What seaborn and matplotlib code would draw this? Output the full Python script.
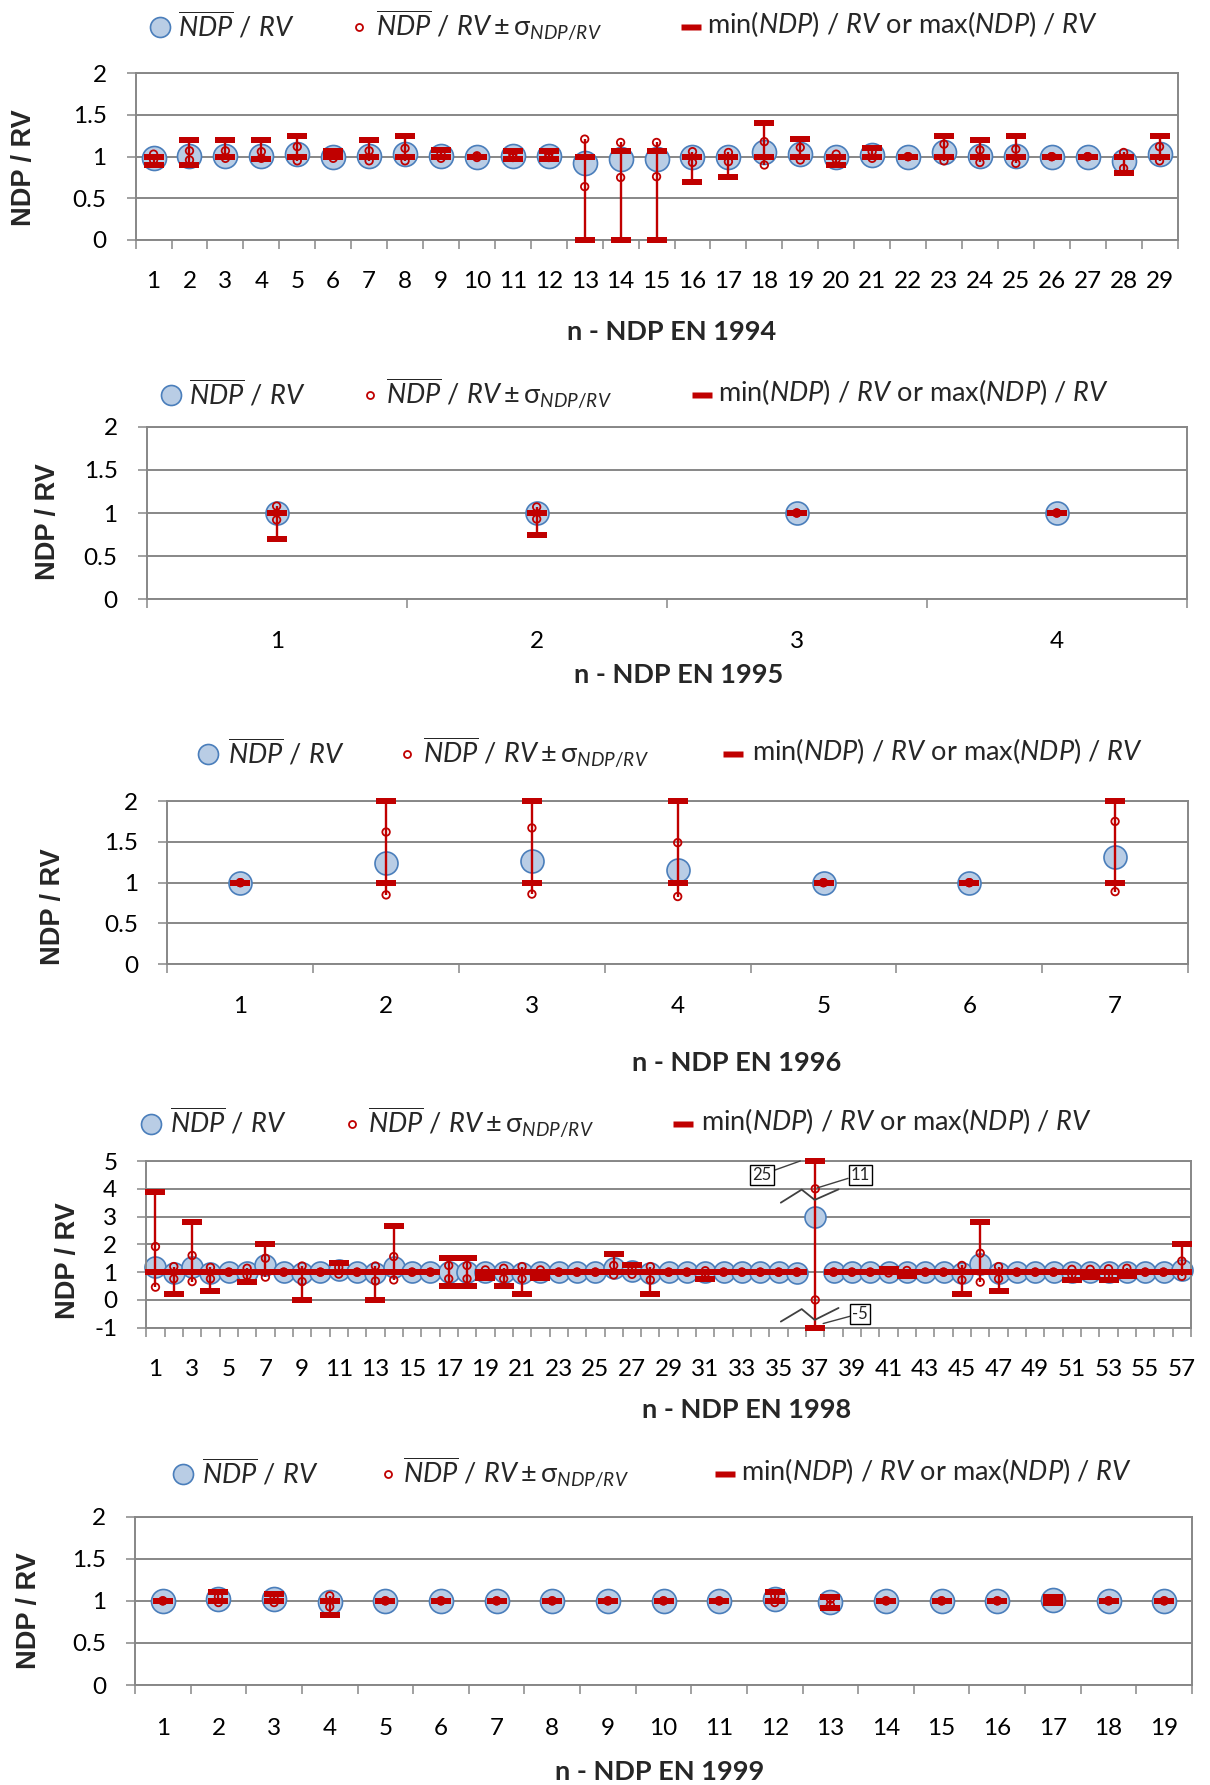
import numpy as np
import pandas as pd
import matplotlib
matplotlib.use("Agg")
import matplotlib.pyplot as plt
import seaborn as sns
from matplotlib.lines import Line2D

# ---------------- data: NDP / RV ratios ----------------
# EN 1994
n_1994 = list(range(1, 30))
mean_1994 = [0.98, 1.01, 1.01, 1.01, 1.03, 1.00, 1.01, 1.03, 1.01, 1.00,
             1.01, 1.01, 0.92, 0.97, 0.97, 0.99, 0.99, 1.05, 1.03, 1.00,
             1.02, 1.00, 1.06, 1.01, 1.01, 1.00, 1.00, 0.95, 1.03]
hi_1994 = [1.03, 1.07, 1.07, 1.06, 1.12, 1.03, 1.07, 1.10, 1.04, 1.01,
           1.03, 1.03, 1.21, 1.17, 1.17, 1.06, 1.05, 1.18, 1.11, 1.03,
           1.06, 1.00, 1.15, 1.08, 1.09, 1.00, 1.00, 1.05, 1.12]
lo_1994 = [0.96, 0.96, 0.98, 0.98, 0.95, 0.98, 0.95, 0.95, 0.98, 0.99,
           0.99, 0.99, 0.64, 0.75, 0.76, 0.93, 0.94, 0.90, 0.96, 0.97,
           0.98, 1.00, 0.95, 0.93, 0.92, 1.00, 1.00, 0.86, 0.95]
max_1994 = [1.00, 1.20, 1.20, 1.20, 1.25, 1.07, 1.20, 1.25, 1.08, 1.00,
            1.07, 1.07, 1.00, 1.07, 1.07, 1.00, 1.00, 1.40, 1.21, 1.00,
            1.10, 1.00, 1.25, 1.20, 1.25, 1.00, 1.00, 1.00, 1.25]
min_1994 = [0.90, 0.90, 1.00, 0.97, 1.00, 1.00, 1.00, 1.00, 1.00, 1.00,
            0.97, 0.97, 0.00, 0.00, 0.00, 0.70, 0.75, 1.00, 1.00, 0.90,
            1.00, 1.00, 1.00, 1.00, 1.00, 1.00, 1.00, 0.80, 1.00]

# EN 1995
n_1995 = [1, 2, 3, 4]
mean_1995 = [1.00, 1.00, 1.00, 1.00]
hi_1995 = [1.08, 1.07, 1.00, 1.00]
lo_1995 = [0.92, 0.93, 1.00, 1.00]
max_1995 = [1.00, 1.00, 1.00, 1.00]
min_1995 = [0.70, 0.75, 1.00, 1.00]

# EN 1996
n_1996 = [1, 2, 3, 4, 5, 6, 7]
mean_1996 = [1.00, 1.24, 1.27, 1.16, 1.00, 1.00, 1.32]
hi_1996 = [1.00, 1.62, 1.67, 1.49, 1.00, 1.00, 1.75]
lo_1996 = [1.00, 0.85, 0.86, 0.83, 1.00, 1.00, 0.89]
max_1996 = [1.00, 2.00, 2.00, 2.00, 1.00, 1.00, 2.00]
min_1996 = [1.00, 1.00, 1.00, 1.00, 1.00, 1.00, 1.00]

# EN 1998
n_1998 = list(range(1, 58))
mean_1998 = [1.20, 0.97, 1.20, 0.97, 1.00, 1.00, 1.25, 1.00, 0.96, 1.00,
             1.08, 1.00, 0.96, 1.20, 1.00, 1.00, 1.00, 1.00, 1.00, 1.00,
             0.96, 1.00, 1.00, 1.00, 1.00, 1.15, 1.05, 0.97, 1.00, 1.00,
             1.00, 1.00, 1.00, 1.00, 1.00, 0.98, 3.00, 1.00, 1.00, 1.00,
             1.00, 1.00, 1.00, 1.00, 0.97, 1.30, 0.96, 1.00, 1.00, 1.00,
             1.00, 1.00, 1.00, 1.00, 1.00, 1.00, 1.08]
hi_1998 = [1.92, 1.20, 1.60, 1.17, 1.00, 1.14, 1.50, 1.00, 1.22, 1.00,
           1.17, 1.00, 1.22, 1.56, 1.00, 1.00, 1.24, 1.24, 1.08, 1.14,
           1.20, 1.08, 1.00, 1.00, 1.00, 1.24, 1.15, 1.20, 1.00, 1.00,
           1.05, 1.00, 1.00, 1.00, 1.00, 1.00, 4.00, 1.00, 1.00, 1.00,
           1.05, 1.06, 1.00, 1.00, 1.24, 1.68, 1.20, 1.00, 1.00, 1.00,
           1.10, 1.10, 1.12, 1.14, 1.00, 1.00, 1.40]
lo_1998 = [0.46, 0.76, 0.66, 0.76, 1.00, 0.88, 0.82, 1.00, 0.66, 1.00,
           0.93, 1.00, 0.68, 0.72, 1.00, 1.00, 0.76, 0.76, 0.90, 0.76,
           0.76, 0.90, 1.00, 1.00, 1.00, 0.90, 0.92, 0.72, 1.00, 1.00,
           0.95, 1.00, 1.00, 1.00, 1.00, 1.00, 0.00, 1.00, 1.00, 1.00,
           0.97, 0.92, 1.00, 1.00, 0.72, 0.64, 0.76, 1.00, 1.00, 1.00,
           0.90, 0.90, 0.86, 0.95, 1.00, 1.00, 0.85]
max_1998 = [3.90, 1.00, 2.80, 1.00, 1.00, 1.00, 2.00, 1.00, 1.00, 1.00,
            1.32, 1.00, 1.00, 2.66, 1.00, 1.00, 1.50, 1.50, 1.00, 1.00,
            1.00, 1.00, 1.00, 1.00, 1.00, 1.65, 1.27, 1.00, 1.00, 1.00,
            1.00, 1.00, 1.00, 1.00, 1.00, 1.00, 5.00, 1.00, 1.00, 1.00,
            1.10, 1.00, 1.00, 1.00, 1.00, 2.80, 1.00, 1.00, 1.00, 1.00,
            1.00, 1.00, 1.00, 1.00, 1.00, 1.00, 2.00]
min_1998 = [1.00, 0.22, 1.00, 0.32, 1.00, 0.63, 1.00, 1.00, 0.00, 1.00,
            1.00, 1.00, 0.00, 1.00, 1.00, 1.00, 0.50, 0.50, 0.78, 0.50,
            0.22, 0.78, 1.00, 1.00, 1.00, 1.00, 1.00, 0.22, 1.00, 1.00,
            0.76, 1.00, 1.00, 1.00, 1.00, 1.00, -1.00, 1.00, 1.00, 1.00,
            1.00, 0.85, 1.00, 1.00, 0.22, 1.00, 0.32, 1.00, 1.00, 1.00,
            0.72, 0.82, 0.72, 0.85, 1.00, 1.00, 1.00]
# off-scale values of procedure 37, drawn at the axis break
break_n_1998 = 37
break_labels_1998 = {"max": "25", "hi": "11", "min": "-5"}

# EN 1999
n_1999 = list(range(1, 20))
mean_1999 = [1.00, 1.02, 1.02, 0.99, 1.00, 1.00, 1.00, 1.00, 1.00, 1.00,
             1.00, 1.02, 0.99, 1.00, 1.00, 1.00, 1.01, 1.00, 1.00]
hi_1999 = [1.00, 1.05, 1.05, 1.06, 1.00, 1.00, 1.00, 1.00, 1.00, 1.00,
           1.00, 1.06, 1.02, 1.00, 1.00, 1.00, 1.02, 1.00, 1.00]
lo_1999 = [1.00, 0.98, 0.98, 0.93, 1.00, 1.00, 1.00, 1.00, 1.00, 1.00,
           1.00, 0.98, 0.95, 1.00, 1.00, 1.00, 1.00, 1.00, 1.00]
max_1999 = [1.00, 1.10, 1.08, 1.00, 1.00, 1.00, 1.00, 1.00, 1.00, 1.00,
            1.00, 1.10, 1.05, 1.00, 1.00, 1.00, 1.04, 1.00, 1.00]
min_1999 = [1.00, 1.00, 1.00, 0.83, 1.00, 1.00, 1.00, 1.00, 1.00, 1.00,
            1.00, 1.00, 0.91, 1.00, 1.00, 1.00, 0.98, 1.00, 1.00]

# ---------------- style ----------------
sns.set_theme(style="white")
plt.rcParams["font.family"] = ["Lato", "DejaVu Sans"]
plt.rcParams["mathtext.fontset"] = "custom"
plt.rcParams["mathtext.rm"] = "Lato"
plt.rcParams["mathtext.it"] = "Lato:italic"
plt.rcParams["mathtext.bf"] = "Lato:bold"
plt.rcParams["mathtext.sf"] = "Lato"
plt.rcParams["mathtext.fallback"] = "stixsans"

RED = "#C00000"
FILL = "#B9CDE5"
EDGE = "#4A7EBB"
GRID = "#878787"
CAP = [(-1, -0.3), (1, -0.3), (1, 0.3), (-1, 0.3), (-1, -0.3)]

W, H = 1210, 1785
PX = 72 / 100  # points per pixel
TICK_FS = 17.5
LEG_FS = 19.5

LEG1 = r"$\overline{NDP}\ /\ RV$"
LEG2 = r"$\overline{NDP}\ /\ RV \pm \mathrm{\sigma}_{NDP/RV}$"
LEG3 = r"$\mathrm{min(}NDP\mathrm{)}\ /\ RV\ \mathrm{or\ max(}NDP\mathrm{)}\ /\ RV$"

fig = plt.figure(figsize=(W / 100, H / 100), dpi=100)


def fx(x):
    return x / W


def fy(y):
    return 1 - y / H


def add_axes(l, t, r, b):
    return fig.add_axes([l / W, 1 - b / H, (r - l) / W, (b - t) / H])


def draw_series(ax, n, mean, hi, lo, vmax, vmin, big_px):
    df = pd.DataFrame(dict(n=n, mean=mean, hi=hi, lo=lo, vmax=vmax, vmin=vmin))
    top = df[["hi", "vmax", "mean"]].max(axis=1)
    bot = df[["lo", "vmin", "mean"]].min(axis=1)
    sns.scatterplot(data=df, x="n", y="mean", s=(big_px * PX) ** 2, color=FILL,
                    edgecolor=EDGE, linewidth=1.2, zorder=2, ax=ax, legend=False,
                    clip_on=False)
    ax.vlines(df["n"], bot, top, color=RED, lw=1.7, zorder=3, clip_on=False)
    caps = pd.melt(df, id_vars="n", value_vars=["vmax", "vmin"], value_name="v")
    sns.scatterplot(data=caps, x="n", y="v", marker=CAP, s=(20 * PX) ** 2, color=RED,
                    linewidth=0, zorder=4, ax=ax, legend=False, clip_on=False)
    sig = pd.melt(df, id_vars="n", value_vars=["hi", "lo"], value_name="v")
    sns.scatterplot(data=sig, x="n", y="v", marker="o", s=(7.5 * PX) ** 2, color=RED,
                    facecolor="none", edgecolor=RED, linewidth=1.3, zorder=5, ax=ax,
                    legend=False, clip_on=False)
    ax.set_xlabel("")
    ax.set_ylabel("")


def style_axes(ax, count, ylim, yticks, every, lab_y, bottom_y):
    ax.set_xlim(0.5, count + 0.5)
    ax.set_ylim(*ylim)
    ax.set_yticks(yticks)
    ax.set_yticklabels([f"{t:g}" for t in yticks])
    ax.set_xticks(np.arange(0.5, count + 1.0, 1.0))
    ax.set_xticklabels([])
    lab = np.arange(1, count + 1, every)
    ax.set_xticks(lab, minor=True)
    ax.set_xticklabels([str(v) for v in lab], minor=True)
    pad = (lab_y - bottom_y - 8.9) * PX
    ax.tick_params(axis="x", which="major", direction="out", length=9 * PX,
                   width=1.1, color=GRID, bottom=True)
    ax.tick_params(axis="x", which="minor", length=0, pad=pad, labelsize=TICK_FS,
                   bottom=True, labelcolor="black")
    ax.tick_params(axis="y", direction="out", length=9 * PX, width=1.1, color=GRID,
                   pad=20 * PX, labelsize=TICK_FS, left=True, labelcolor="black")
    ax.grid(axis="y", color=GRID, lw=1.4)
    ax.grid(axis="x", visible=False)
    ax.set_axisbelow(True)
    for sp in ax.spines.values():
        sp.set_visible(True)
        sp.set_color(GRID)
        sp.set_linewidth(1.4)


def draw_legend(y, xc, xt1, xs, xt2, xd, xt3):
    fig.add_artist(Line2D([fx(xc)], [fy(y)], marker="o", ms=20 * PX, mfc=FILL,
                          mec=EDGE, mew=1.2, ls="none", transform=fig.transFigure))
    fig.add_artist(Line2D([fx(xs)], [fy(y)], marker="o", ms=7 * PX, mfc="none",
                          mec=RED, mew=1.3, ls="none", transform=fig.transFigure))
    fig.add_artist(Line2D([fx(xd)], [fy(y)], marker=CAP, ms=20 * PX, mfc=RED,
                          mec="none", ls="none", transform=fig.transFigure))
    fig.text(fx(xt1), fy(y + 9), LEG1, fontsize=LEG_FS, va="baseline", ha="left")
    fig.text(fx(xt2), fy(y + 9), LEG2, fontsize=LEG_FS, va="baseline", ha="left")
    fig.text(fx(xt3), fy(y + 6), LEG3, fontsize=LEG_FS, va="baseline", ha="left")


def axis_titles(xlab, xpos, ypos):
    fig.text(fx(xpos[0]), fy(xpos[1]), xlab, fontsize=19.5, fontweight="bold",
             ha="center", va="center")
    fig.text(fx(ypos[0]), fy(ypos[1]), "NDP / RV", fontsize=19.5, fontweight="bold",
             family=["Liberation Sans", "DejaVu Sans"], rotation=90,
             ha="center", va="center")


# ---------------- panel EN 1994 ----------------
ax1 = add_axes(135.6, 73.3, 1177.5, 240)
draw_series(ax1, n_1994, mean_1994, hi_1994, lo_1994, max_1994, min_1994, 24)
style_axes(ax1, len(n_1994), (0, 2), [0, 0.5, 1, 1.5, 2], 1, 280, 240)
draw_legend(27, 160, 178, 359, 376, 691, 707)
axis_titles("n - NDP EN 1994", (672, 332), (24, 168))

# ---------------- panel EN 1995 ----------------
ax2 = add_axes(146.6, 426.7, 1186.8, 599.3)
draw_series(ax2, n_1995, mean_1995, hi_1995, lo_1995, max_1995, min_1995, 23)
style_axes(ax2, len(n_1995), (0, 2), [0, 0.5, 1, 1.5, 2], 1, 640, 599.3)
draw_legend(395, 171, 189, 370, 386, 702, 718)
axis_titles("n - NDP EN 1995", (679, 675), (48, 522))

# ---------------- panel EN 1996 ----------------
ax3 = add_axes(167.4, 801, 1188, 964.3)
draw_series(ax3, n_1996, mean_1996, hi_1996, lo_1996, max_1996, min_1996, 23)
style_axes(ax3, len(n_1996), (0, 2), [0, 0.5, 1, 1.5, 2], 1, 1005, 964.3)
draw_legend(754, 208, 228, 407, 423, 733, 752)
axis_titles("n - NDP EN 1996", (737, 1063), (53, 907))

# ---------------- panel EN 1998 ----------------
ax4 = add_axes(146.3, 1161, 1191, 1327.7)
draw_series(ax4, n_1998, mean_1998, hi_1998, lo_1998, max_1998, min_1998, 21)
style_axes(ax4, len(n_1998), (-1, 5), [-1, 0, 1, 2, 3, 4, 5], 2, 1368, 1327.7)
draw_legend(1124, 151, 170, 352, 368, 683, 701)
axis_titles("n - NDP EN 1998", (747, 1410), (68, 1261))

# axis-break marks and true values of the off-scale procedure
b = break_n_1998
zz_dx = np.array([-1.88, -0.74, -0.03, 1.27])
ax4.plot(b + zz_dx, [3.50, 3.97, 3.60, 3.98], color="#404040", lw=1.3, zorder=6,
         clip_on=False)
ax4.plot(b + zz_dx, [-0.78, -0.33, -0.72, -0.29], color="#404040", lw=1.3, zorder=6,
         clip_on=False)
box = dict(boxstyle="square,pad=0.12", fc="white", ec="black", lw=1.0)
ax4.annotate(break_labels_1998["max"], xy=(b - 0.82, 5.0), xytext=(b - 2.9, 4.51),
             fontsize=12, ha="center", va="center", bbox=box, zorder=7,
             arrowprops=dict(arrowstyle="-", color="#404040", lw=1.0, shrinkA=0,
                             shrinkB=0), annotation_clip=False)
ax4.annotate(break_labels_1998["hi"], xy=(b + 0.1, 4.03), xytext=(b + 2.45, 4.51),
             fontsize=12, ha="center", va="center", bbox=box, zorder=7,
             arrowprops=dict(arrowstyle="-", color="#404040", lw=1.0, shrinkA=0,
                             shrinkB=0), annotation_clip=False)
ax4.annotate(break_labels_1998["min"], xy=(b + 0.43, -0.85), xytext=(b + 2.45, -0.49),
             fontsize=12, ha="center", va="center", bbox=box, zorder=7,
             arrowprops=dict(arrowstyle="-", color="#404040", lw=1.0, shrinkA=0,
                             shrinkB=0), annotation_clip=False)

# ---------------- panel EN 1999 ----------------
ax5 = add_axes(135, 1516.7, 1192, 1685)
draw_series(ax5, n_1999, mean_1999, hi_1999, lo_1999, max_1999, min_1999, 24)
style_axes(ax5, len(n_1999), (0, 2), [0, 0.5, 1, 1.5, 2], 1, 1727, 1685)
draw_legend(1474, 183, 202, 388, 403, 725, 741)
axis_titles("n - NDP EN 1999", (660, 1772), (29, 1611))

fig.savefig("out.png", dpi=100, facecolor="white")
